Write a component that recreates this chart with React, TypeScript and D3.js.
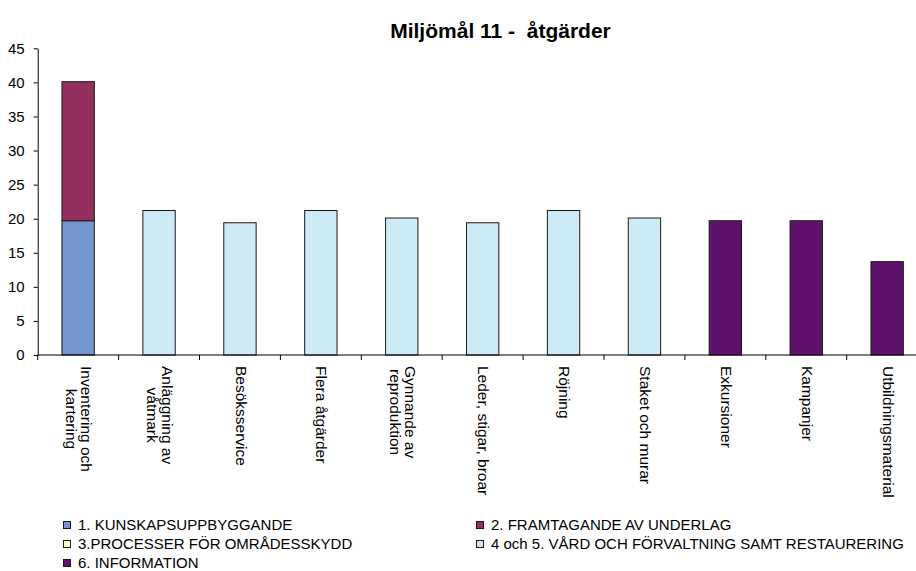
import { useEffect, useRef } from "react";
import * as d3 from "d3";

const categories = [
  "Inventering och\nkartering",
  "Anläggning av\nvåtmark",
  "Besöksservice",
  "Flera åtgärder",
  "Gynnande av\nreproduktion",
  "Leder, stigar, broar",
  "Röjning",
  "Staket och murar",
  "Exkursioner",
  "Kampanjer",
  "Utbildningsmaterial",
];

const seriesNames = [
  "1. KUNSKAPSUPPBYGGANDE",
  "2. FRAMTAGANDE AV UNDERLAG",
  "3.PROCESSER FÖR OMRÅDESSKYDD",
  "4 och 5. VÅRD OCH FÖRVALTNING SAMT RESTAURERING",
  "6. INFORMATION",
];

const seriesColors = ["#7394CC", "#93305F", "#FFFFC0", "#CDEBF4", "#5F126B"];

const kunskap = [19.7, 0, 0, 0, 0, 0, 0, 0, 0, 0, 0];
const framtagande = [20.4, 0, 0, 0, 0, 0, 0, 0, 0, 0, 0];
const processer = [0, 0, 0, 0, 0, 0, 0, 0, 0, 0, 0];
const vard = [0, 21.2, 19.4, 21.2, 20.1, 19.4, 21.2, 20.1, 0, 0, 0];
const information = [0, 0, 0, 0, 0, 0, 0, 0, 19.7, 19.7, 13.7];

const yTicks = [0, 5, 10, 15, 20, 25, 30, 35, 40, 45];

const title = "Miljömål 11 -  åtgärder";

export default function App() {
  const ref = useRef<SVGSVGElement | null>(null);

  useEffect(() => {
    if (!ref.current) return;
    ref.current.innerHTML = "";

    const font = "'Liberation Sans', Arial, sans-serif";
    const svg = d3.select(ref.current);

    const left = 37.7,
      bandW = 80.9,
      top = 48.3,
      bottom = 355;

    const values = [kunskap, framtagande, processer, vard, information];
    const table = categories.map((c, i) => {
      const row: Record<string, any> = { cat: c };
      seriesNames.forEach((s, k) => (row[s] = values[k][i]));
      return row;
    });
    const stacked = d3.stack<any>().keys(seriesNames)(table);

    const x = d3
      .scaleBand()
      .domain(categories)
      .range([left, left + bandW * categories.length])
      .paddingInner(0.6)
      .paddingOuter(0.3);
    const y = d3.scaleLinear().domain([0, 45]).range([bottom, top]);

    // title
    svg
      .append("text")
      .attr("x", 500.5)
      .attr("y", 38)
      .attr("text-anchor", "middle")
      .style("white-space", "pre")
      .attr("font-family", font)
      .attr("font-weight", "bold")
      .attr("font-size", 21)
      .text(title);

    // bars
    stacked.forEach((layer, k) => {
      svg
        .append("g")
        .selectAll("rect")
        .data(layer.filter((d) => d[1] - d[0] > 0))
        .join("rect")
        .attr("x", (d) => x(d.data.cat)!)
        .attr("width", x.bandwidth())
        .attr("y", (d) => y(d[1]))
        .attr("height", (d) => y(d[0]) - y(d[1]))
        .attr("fill", seriesColors[k])
        .attr("stroke", "#1a1a1a")
        .attr("stroke-width", 1);
    });

    // y axis
    const yAxis = svg
      .append("g")
      .attr("transform", `translate(${left},0)`)
      .call(
        d3
          .axisLeft(y)
          .tickValues(yTicks)
          .tickSize(4)
          .tickPadding(9)
          .tickSizeOuter(0)
      );
    yAxis.select(".domain").attr("stroke", "#000");
    yAxis.selectAll("line").attr("stroke", "#000");
    yAxis
      .selectAll("text")
      .attr("font-family", font)
      .attr("font-size", 15)
      .attr("fill", "#000");
    // stub below baseline
    svg
      .append("line")
      .attr("x1", left)
      .attr("x2", left)
      .attr("y1", bottom)
      .attr("y2", bottom + 5)
      .attr("stroke", "#000");

    // x axis
    const xEdges = d3.range(categories.length + 1).map((i) => left + i * bandW);
    svg
      .append("line")
      .attr("x1", left)
      .attr("x2", xEdges[xEdges.length - 1])
      .attr("y1", bottom)
      .attr("y2", bottom)
      .attr("stroke", "#000");
    svg
      .append("g")
      .selectAll("line")
      .data(xEdges.slice(1))
      .join("line")
      .attr("x1", (d) => d)
      .attr("x2", (d) => d)
      .attr("y1", bottom)
      .attr("y2", bottom + 5)
      .attr("stroke", "#000");

    // rotated category labels
    const lh = 14.5;
    categories.forEach((c) => {
      const lines = c.split("\n");
      const cx = x(c)! + x.bandwidth() / 2;
      const g = svg.append("g");
      const t = g
        .append("text")
        .attr("font-family", font)
        .attr("font-size", 15.5)
        .attr("text-anchor", "middle")
        .attr("fill", "#000");
      lines.forEach((l, i) => {
        t.append("tspan")
          .attr("x", 0)
          .attr("y", (i - (lines.length - 1) / 2) * lh)
          .attr("dy", "0.35em")
          .text(l);
      });
      let maxLen = 0;
      t.selectAll<SVGTSpanElement, unknown>("tspan").each(function () {
        maxLen = Math.max(maxLen, this.getComputedTextLength());
      });
      g.attr("transform", `translate(${cx + 1},${366 + maxLen / 2}) rotate(90)`);
    });

    // legend
    const legendPos = [
      [63, 525],
      [476, 525],
      [63, 544],
      [476, 544],
      [63, 563],
    ];
    const lg = svg
      .append("g")
      .selectAll("g")
      .data(seriesNames)
      .join("g")
      .attr("transform", (_, i) => `translate(${legendPos[i][0]},${legendPos[i][1]})`);
    lg.append("rect")
      .attr("x", 0.5)
      .attr("y", -3.5)
      .attr("width", 7)
      .attr("height", 7)
      .attr("fill", (_, i) => seriesColors[i])
      .attr("stroke", "#1a1a1a");
    lg.append("text")
      .attr("x", 15)
      .attr("dy", "0.35em")
      .attr("font-family", font)
      .attr("font-size", 15)
      .attr("fill", "#000")
      .text((d) => d);
  }, []);

  return (
    <svg
      ref={ref}
      width={916}
      height={571}
      style={{ position: "absolute", left: 0, top: 0, background: "#fff" }}
    />
  );
}
